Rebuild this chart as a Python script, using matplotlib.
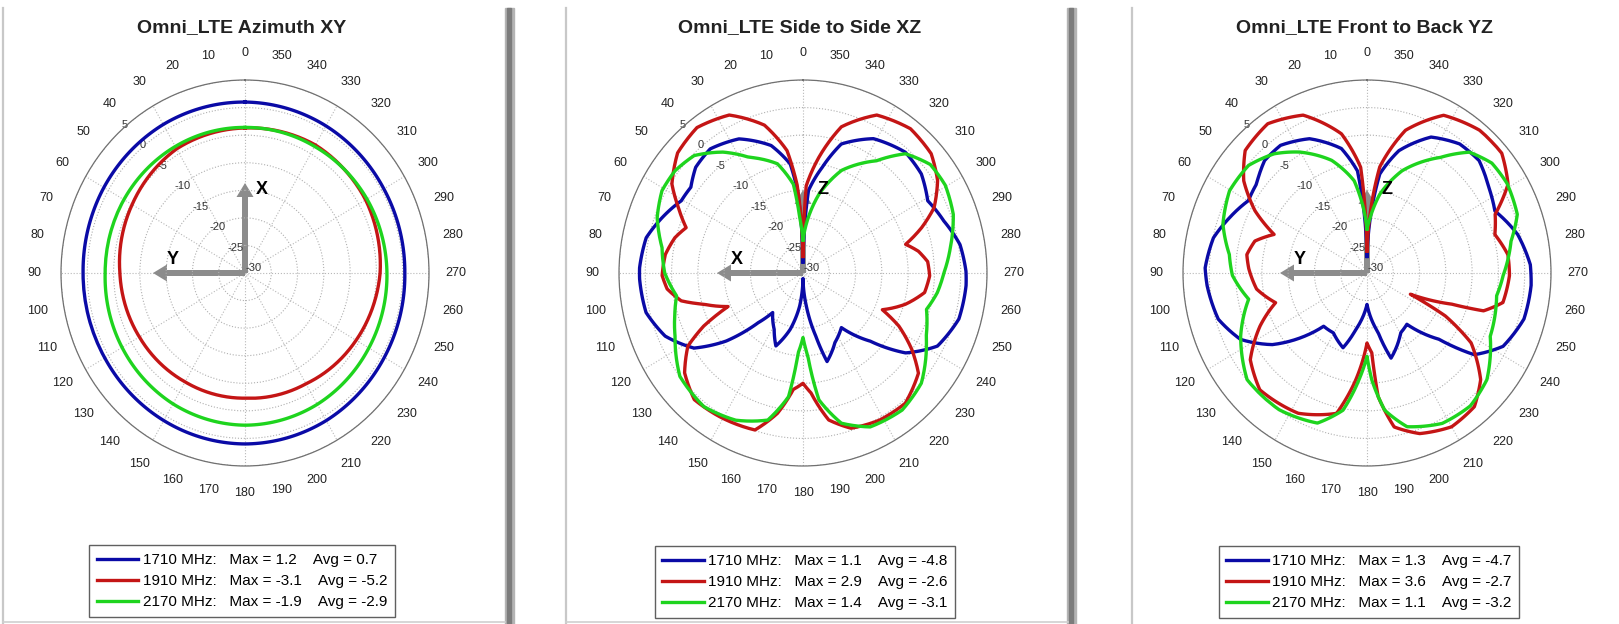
import numpy as np
import matplotlib
matplotlib.use("Agg")
import matplotlib.pyplot as plt
from matplotlib.patches import FancyArrow, Rectangle
from matplotlib.lines import Line2D
from matplotlib.transforms import IdentityTransform

plt.rcParams['font.family'] = ['Liberation Sans', 'DejaVu Sans']
plt.rcParams['axes.unicode_minus'] = False

# ---- data (gain in dB, angle in degrees) ----
freqs = [1710, 1910, 2170]

# Azimuth XY
xy_ang = [0, 30, 60, 90, 120, 150, 180, 210, 240, 270, 300, 330, 360]
xy_1710 = [1.0, 1.1, 1.0, 0.8, 0.8, 0.9, 1.0, 0.9, 0.6, 0.4, 0.5, 0.8, 1.0]
xy_1910 = [-3.7, -4.0, -5.2, -6.2, -6.8, -7.2, -7.3, -6.8, -5.6, -4.3, -3.5, -3.2, -3.7]
xy_2170 = [-3.6, -3.5, -3.4, -3.4, -3.0, -2.6, -2.4, -2.5, -2.8, -3.0, -3.2, -3.5, -3.6]
xy_max = [1.2, -3.1, -1.9]
xy_avg = [0.7, -5.2, -2.9]

# Side to Side XZ
xz_1710_ang = [0, 4, 7, 14.7, 26.6, 38.1, 46.8, 53.9, 60.5, 69.4, 77.9, 88.3, 92, 103.5, 113.6,
               123.3, 130.2, 136.6, 141.2, 151.8, 158.7, 166.6, 174, 180, 186, 192, 195.9, 205.7,
               216.4, 226, 233.4, 242.6, 254.3, 265.8, 270.6, 279.8, 289.4, 298.9, 308.6, 318.4,
               331.2, 342.7, 349.2, 356, 360]
xz_1710 = [-28, -15, -10.1, -6.1, -2.8, -1.4, -2.0, -3.6, -3.4, -1.4, 0.5, 1.1, 1.1, 0.7, -1.4,
           -5.2, -10.9, -17.6, -20.8, -18.4, -15.8, -19.5, -24, -29, -24, -18.3, -13.3, -16,
           -17.7, -12.2, -5.7, -1.2, 0.8, 1.1, 1.0, 0.3, -1.6, -2.9, -1.2, -0.7,
           -2.2, -5.5, -10.5, -15, -28]
xz_1910_ang = [0, 4, 7.8, 15.3, 26.1, 37.4, 47.6, 57.1, 63.4, 69.7, 75.3, 82.7, 91, 96.4, 102.3,
               106.7, 113.1, 117, 121.2, 128.8, 138, 148.7, 162.2, 169.2, 175, 180, 184, 190.4,
               198, 208.7, 219.5, 230.4, 236.2, 242.2, 246.2, 253.8, 261.3, 268.8, 275, 280.2,
               284.9, 290, 295.4, 303.2, 311.6, 322, 333.9, 344.6, 351.8, 357.8, 360]
xz_1910 = [-27, -14, -7.6, -2.2, 1.9, 3.2, 2.3, -0.3, -3.5, -6.3, -4.8, -3.6, -3.2, -4.0, -6.3,
           -10.3, -14.5, -8.8, -4.4, -1.1, 0.9, 0.5, -0.1, -4.1, -8.8, -10.0, -8.2, -2.9,
           -0.4, 0.4, 0.6, -1.5, -5.1, -9.4, -13.5, -9.7, -6.6, -5.9, -6.2, -7.7,
           -9.8, -6.0, -2.4, 0.6, 2.6, 3.2, 1.9, -2.5, -8.8, -14.2, -27]
xz_2170_ang = [0, 3.5, 6.5, 13.8, 26.2, 34.8, 44.2, 52.7, 60.9, 70.1, 80.3, 90, 99.8, 107, 115.2,
               128.7, 142.1, 154.4, 165.9, 173, 176.4, 180, 183.5, 187.5, 195, 204.6, 217.2,
               228.4, 243.9, 254.3, 262.1, 270, 279.3, 290.4, 300.5, 309.1, 318, 325.5, 338.5,
               348, 353.5, 360]
xz_2170 = [-24, -20, -13.8, -9.6, -6.6, -3.3, -0.3, 0.6, 0.7, -0.5, -2.8, -3.7, -5.6, -4.5, -3.1,
           0.0, 0.7, -0.4, -2.5, -7.4, -15.5, -18.3, -14.9, -6.8, -1.8, 0.7, 1.2,
           0.1, -3.9, -5.6, -4.2, -3.2, -1.6, 0.5, 1.4, 1.2, -0.9, -5.3, -10.0,
           -15.4, -19.3, -24]
xz_max = [1.1, 2.9, 1.4]
xz_avg = [-4.8, -2.6, -3.1]

# Front to Back YZ
yz_1710_ang = [0, 5.6, 12.2, 24.2, 35.4, 43.7, 52.5, 59.8, 69, 77.7, 88.3, 94.3, 106.5, 116.6,
               125.8, 134, 139.5, 149.5, 161.4, 168.2, 180, 191.1, 196.5, 210.5, 219.2, 228.7,
               234, 242.8, 254.4, 265.9, 272.8, 283.7, 294.8, 303.9, 313.7, 323, 333.7, 344.7,
               352.3, 360]
yz_1710 = [-27, -11.4, -6.9, -3.3, -1.6, -1.8, -3.5, -3.9, -2.0, -0.1, 0.8, 0.5, -0.5, -3.1,
           -7.8, -13.5, -17.3, -17.4, -15.7, -19.5, -24.3, -19, -13.9, -17.4, -18, -11.8,
           -4.8, -0.9, 1.0, 1.3, 1.1, -0.5, -3.2, -2.1, -0.5, -0.7, -2.5, -7.0,
           -11.9, -27]
yz_1910_ang = [0, 3.6, 10.9, 23, 34.9, 46.2, 54.5, 62.1, 68.4, 74.8, 81.7, 88, 97.9, 107.2, 115.3,
               125.3, 136.1, 152.8, 167.2, 173.7, 180, 183.6, 185.4, 190.5, 199, 210, 220.1,
               228.2, 237.4, 242.4, 245, 250.7, 252.8, 258.3, 269, 277.1, 286, 293.6, 301,
               310.3, 320.4, 333, 344.2, 352.8, 360]
yz_1910 = [-26, -10.8, -4.3, 1.1, 3.0, 2.1, -1.2, -5.9, -11.0, -7.9, -6.9, -7.5, -8.8, -11.8, -7.5,
           -2.8, -0.6, -1.4, -3.9, -10.5, -17.3, -15.5, -7.5, -1.6, 0.8, 2.2, 1.7,
           -1.0, -6.5, -13.2, -20.9, -12.9, -6.8, -3.6, -2.9, -3.0, -4.7, -3.4, 1.3,
           3.6, 3.6, 2.1, -3.1, -10.6, -26]
yz_2170_ang = [0, 3.5, 8.3, 18.2, 30.3, 39.2, 49.1, 60.3, 72.1, 82.7, 91, 101.9, 115.4, 130.3, 146,
               160.9, 169.6, 175.5, 180, 182.7, 187.7, 195.3, 207.7, 219.2, 229.7, 243.9, 260.5,
               269, 281.9, 290.4, 301.4, 310, 318.4, 326.3, 340.2, 350.3, 356.5, 360]
yz_2170 = [-22, -18, -13.1, -8.5, -4.6, -2.1, -0.2, 0.1, -1.2, -3.6, -4.4, -7.0, -3.4, -0.1, -0.1,
           -1.2, -4.7, -10.6, -14.9, -10.6, -4.9, -1.1, 0.8, 1.1, -0.1, -3.9, -5.0,
           -4.1, -2.0, 0.5, 1.2, 1.0, -0.7, -4.8, -10.3, -15.5, -19.9, -22]
yz_max = [1.3, 3.6, 1.1]
yz_avg = [-4.7, -2.7, -3.2]

angle_ticks = list(range(0, 360, 10))
r_ticks = [-30, -25, -20, -15, -10, -5, 0, 5]

colors = ['#0a0aa6', '#c41515', '#1ed41e']

W, H = 1619, 624
RX, RY = 184, 193

panels = [
    dict(title="Omni_LTE Azimuth XY", cx=245,
         curves=[(xy_ang, xy_1710), (xy_ang, xy_1910), (xy_ang, xy_2170)],
         mx=xy_max, avg=xy_avg, up=("X", 90, 17), left=("Y", 92, -72), leg=(242, 43)),
    dict(title="Omni_LTE Side to Side XZ", cx=803,
         curves=[(xz_1710_ang, xz_1710), (xz_1910_ang, xz_1910), (xz_2170_ang, xz_2170)],
         mx=xz_max, avg=xz_avg, up=("Z", 83, 20), left=("X", 86, -66), leg=(805, 42)),
    dict(title="Omni_LTE Front to Back YZ", cx=1367,
         curves=[(yz_1710_ang, yz_1710), (yz_1910_ang, yz_1910), (yz_2170_ang, yz_2170)],
         mx=yz_max, avg=yz_avg, up=("Z", 83, 20), left=("Y", 87, -67), leg=(1369, 42)),
]

fig = plt.figure(figsize=(W / 100, H / 100), dpi=100)
fig.patch.set_facecolor('white')
px = IdentityTransform()

# panel frames: thin left border, shaded right edge
for x0 in [3, 566, 1132]:
    fig.add_artist(Line2D([x0, x0], [0, H - 8], color='#c8c8c8', lw=1.6, transform=px))
for x0 in [3, 566]:
    fig.add_artist(Line2D([x0, x0 + 502], [2, 2], color='#d0d0d0', lw=1.2, transform=px))
for xb in [505, 1067]:
    fig.add_artist(Rectangle((xb, 0), 9, H - 8, color='#b4b4b4', transform=px))
    fig.add_artist(Rectangle((xb + 1.5, 0), 4, H - 8, color='#7c7c7c', transform=px))

cy = H - 273
for p in panels:
    cx = p['cx']
    ax = fig.add_axes([(cx - RX) / W, (cy - RY) / H, 2 * RX / W, 2 * RY / H], projection='polar')
    ax.set_aspect('auto')
    ax.set_theta_zero_location('N')
    ax.set_theta_direction(1)
    ax.set_ylim(-30, 5)

    ax.set_xticks(np.deg2rad(angle_ticks))
    ax.set_xticklabels([str(a) for a in angle_ticks], fontsize=9, color='#222222')
    ax.tick_params(axis='x', pad=9)
    ax.xaxis.grid(False)

    ax.set_yticks(r_ticks)
    ax.set_yticklabels([str(r) for r in r_ticks], fontsize=8, color='#333333')
    ax.set_rlabel_position(42)
    ax.yaxis.grid(True, linestyle=':', color='#b0b0b0', lw=0.8)
    for a in range(0, 360, 30):
        ax.plot([np.deg2rad(a)] * 2, [-30, 5], linestyle=':', color='#b8b8b8', lw=0.8, zorder=1)
    ax.spines['polar'].set_color('#707070')
    ax.spines['polar'].set_linewidth(0.9)

    # coordinate system arrows
    name, ln, dx = p['up']
    ax.add_patch(FancyArrow(cx, cy, 0, ln, width=6, head_width=17, head_length=14,
                            length_includes_head=True, color='#8c8c8c', lw=0,
                            transform=px, zorder=1.5))
    fig.text(cx + dx, cy + 83, name, fontsize=13, fontweight='bold', ha='center', va='center',
             transform=px)
    name, ln, dx = p['left']
    ax.add_patch(FancyArrow(cx, cy, -ln, 0, width=6, head_width=17, head_length=14,
                            length_includes_head=True, color='#8c8c8c', lw=0,
                            transform=px, zorder=1.5))
    fig.text(cx + dx, cy + 13, name, fontsize=13, fontweight='bold', ha='center', va='center',
             transform=px)

    handles = []
    for (ang, db), c, f, m, a in zip(p['curves'], colors, freqs, p['mx'], p['avg']):
        h, = ax.plot(np.deg2rad(ang), db, color=c, lw=2.4, zorder=3,
                     label=f"{f} MHz:   Max = {m}    Avg = {a}")
        # let the polar transform draw each segment as a curve in (theta, r)
        h.get_path()._interpolation_steps = 24
        handles.append(h)

    fig.text(cx - 3, H - 28, p['title'], fontsize=14, fontweight='bold', ha='center',
             va='center', color='#222222', transform=px)

    leg = ax.legend(handles=handles, loc='center', bbox_to_anchor=p['leg'], bbox_transform=px,
                    fontsize=11, handlelength=2.7, handletextpad=0.3, borderpad=0.5,
                    labelspacing=0.45, fancybox=False, framealpha=1)
    leg.get_frame().set_edgecolor('#606060')
    leg.get_frame().set_linewidth(1.0)

fig.savefig("out.png", dpi=100)
